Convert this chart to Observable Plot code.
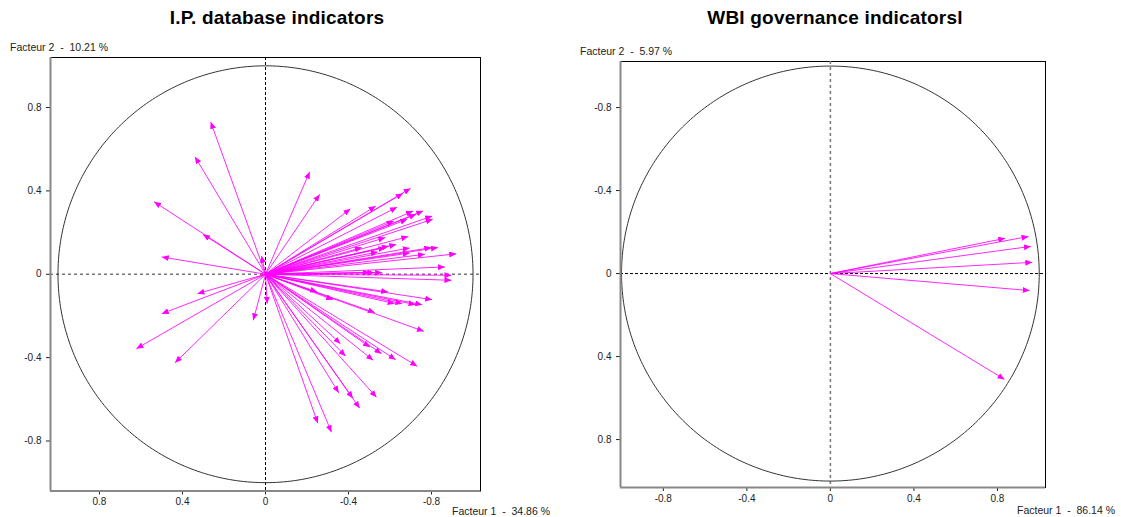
<!DOCTYPE html>
<html>
<head>
<meta charset="utf-8">
<script src="https://cdn.jsdelivr.net/npm/d3@7"></script>
<script src="https://cdn.jsdelivr.net/npm/@observablehq/plot@0.6"></script>
<style>
  body { margin: 0; background: #fff; }
  #wrap { position: relative; width: 1121px; height: 517px; overflow: hidden; background: #fff; }
  .title { position: absolute; font-family: "Liberation Sans", Arial, sans-serif; font-weight: bold; font-size: 19px; letter-spacing: 0.2px; text-align: center; color: #000; }
  .lab { position: absolute; font-family: "Liberation Sans", Arial, sans-serif; font-size: 10.5px; color: #222; white-space: pre; line-height: 12px; }
  .plot { position: absolute; top: 0; }
</style>
</head>
<body>
<div id="wrap">
  <div class="title" style="left:0px; top:7px; width:554px;">I.P. database indicators</div>
  <div class="title" style="left:560px; top:7px; width:550px;">WBI governance indicatorsl</div>
  <div class="lab" style="left:10px; top:41px;">Facteur 2  -  10.21 %</div>
  <div class="lab" style="left:452px; top:505px;">Facteur 1  -  34.86 %</div>
  <div class="lab" style="left:580px; top:45px;">Facteur 2  -  5.97 %</div>
  <div class="lab" style="left:1017px; top:504px;">Facteur 1  -  86.14 %</div>
  <div id="p1" class="plot" style="left:0px;"></div>
  <div id="p2" class="plot" style="left:560px;"></div>
</div>
<script>
// Tick labels
const tickValues = [-0.8, -0.4, 0, 0.4, 0.8];
const tickLabels = ["-0.8", "-0.4", "0", "0.4", "0.8"];

// Left panel: I.P. database indicators (Facteur 1 x, Facteur 2 y)
const ipF1 = [0.264, 0.340, 0.537, 0.301, 0.500, 0.019, 0.328, 0.500, 0.622, 0.436, 0.059, -0.008,
  -0.213, -0.261, -0.409, -0.531, -0.634, -0.662, -0.699, -0.711, -0.760, -0.618, -0.683, -0.726, -0.803, -0.806,
  -0.577, -0.688, -0.464, -0.541, -0.578, -0.594, -0.630, -0.695, -0.695, -0.768, -0.799, -0.831, -0.919, -0.864,
  -0.503, -0.525, -0.562, -0.896, -0.896,
  -0.591, -0.803, -0.622, -0.659, -0.723, -0.755, -0.249, -0.326, -0.527, -0.763, -0.361, -0.386, -0.503, -0.519,
  -0.559, -0.627, -0.731, -0.353, -0.421, -0.454, -0.535, -0.252, -0.318];
const ipF2 = [0.731, 0.564, 0.348, 0.191, 0.083, 0.088, -0.093, -0.189, -0.357, -0.425, -0.221, -0.141,
  0.492, 0.383, 0.314, 0.327, 0.322, 0.388, 0.412, 0.303, 0.304, 0.255, 0.264, 0.288, 0.279, 0.264,
  0.176, 0.181, 0.128, 0.107, 0.128, 0.135, 0.143, 0.126, 0.102, 0.096, 0.128, 0.128, 0.098, 0.035,
  0.008, 0.008, 0.008, -0.005, -0.029,
  -0.085, -0.122, -0.141, -0.141, -0.146, -0.146, -0.085, -0.122, -0.184, -0.274, -0.333, -0.393, -0.350, -0.413,
  -0.381, -0.410, -0.441, -0.569, -0.595, -0.643, -0.590, -0.715, -0.758];

// Right panel: WBI governance indicators
const wbiF1 = [0.837, 0.949, 0.960, 0.967, 0.954, 0.834];
const wbiF2 = [-0.170, -0.179, -0.131, -0.054, 0.082, 0.510];

const ipData = ipF1.map((x, i) => ({x, y: ipF2[i]}));
const wbiData = wbiF1.map((x, i) => ({x, y: wbiF2[i]}));

// unit correlation circle (geometric reference)
const circle = d3.range(0, 361).map(a => ({x: Math.cos(a * Math.PI / 180), y: Math.sin(a * Math.PI / 180)}));

const fmt = d => tickLabels[tickValues.indexOf(Math.round(d * 10) / 10)] ?? String(d);
const magenta = "#ff00ff";

function addMarker(svg, id) {
  const ns = "http://www.w3.org/2000/svg";
  const defs = document.createElementNS(ns, "defs");
  const m = document.createElementNS(ns, "marker");
  m.setAttribute("id", id);
  m.setAttribute("viewBox", "0 0 7 6");
  m.setAttribute("refX", "7");
  m.setAttribute("refY", "3");
  m.setAttribute("markerWidth", "7");
  m.setAttribute("markerHeight", "6");
  m.setAttribute("markerUnits", "userSpaceOnUse");
  m.setAttribute("orient", "auto");
  const p = document.createElementNS(ns, "path");
  p.setAttribute("d", "M0,0L7,3L0,6Z");
  p.setAttribute("fill", magenta);
  m.appendChild(p);
  defs.appendChild(m);
  svg.insertBefore(defs, svg.firstChild);
  svg.querySelectorAll('g[aria-label="link"] path').forEach(el => el.setAttribute("marker-end", `url(#${id})`));
}

const style = {fontFamily: "'Liberation Sans', Arial, sans-serif", fontSize: "10px", color: "#222", background: "transparent", overflow: "visible"};

// Left plot
const xL = [-1.036, 1.036], yL = [-1.04, 1.04];
const p1 = Plot.plot({
  width: 560, height: 517,
  marginLeft: 50, marginRight: 80, marginTop: 57, marginBottom: 26.5,
  style,
  x: {domain: xL, reverse: true, ticks: tickValues, tickFormat: fmt, tickSize: 4, tickPadding: 3, label: null},
  y: {domain: yL, ticks: tickValues, tickFormat: fmt, tickSize: 4, tickPadding: 5, label: null},
  marks: [
    Plot.frame({stroke: "#000", strokeWidth: 1}),
    Plot.ruleY([0], {stroke: "#777", strokeWidth: 1.5, strokeDasharray: "3,3"}),
    Plot.ruleX([0], {stroke: "#000", strokeWidth: 1, strokeDasharray: "3,2"}),
    Plot.line(circle, {x: "x", y: "y", stroke: "#333", strokeWidth: 1}),
    Plot.link(ipData, {x1: () => 0, y1: () => 0, x2: "x", y2: "y", stroke: magenta, strokeWidth: 1, strokeOpacity: 0.85}),
    Plot.ruleX([xL[1]], {stroke: "#888", strokeWidth: 2}),
    Plot.ruleY([yL[0]], {stroke: "#888", strokeWidth: 2})
  ]
});
addMarker(p1, "triL");
document.getElementById("p1").appendChild(p1);

// Right plot
const xR = [-1.005, 1.03], yR = [-1.022, 1.031];
const p2 = Plot.plot({
  width: 561, height: 517,
  marginLeft: 60, marginRight: 76, marginTop: 61, marginBottom: 30,
  style,
  x: {domain: xR, ticks: tickValues, tickFormat: fmt, tickSize: 4, tickPadding: 3, label: null},
  y: {domain: yR, reverse: true, ticks: tickValues, tickFormat: fmt, tickSize: 4, tickPadding: 5, label: null},
  marks: [
    Plot.frame({stroke: "#000", strokeWidth: 1}),
    Plot.ruleX([0], {stroke: "#777", strokeWidth: 1.5, strokeDasharray: "3,3"}),
    Plot.ruleY([0], {stroke: "#000", strokeWidth: 1, strokeDasharray: "3,2"}),
    Plot.line(circle, {x: "x", y: "y", stroke: "#333", strokeWidth: 1}),
    Plot.link(wbiData, {x1: () => 0, y1: () => 0, x2: "x", y2: "y", stroke: magenta, strokeWidth: 1, strokeOpacity: 0.85}),
    Plot.ruleX([xR[0]], {stroke: "#888", strokeWidth: 2}),
    Plot.ruleY([yR[1]], {stroke: "#888", strokeWidth: 2})
  ]
});
addMarker(p2, "triR");
document.getElementById("p2").appendChild(p2);
</script>
</body>
</html>
